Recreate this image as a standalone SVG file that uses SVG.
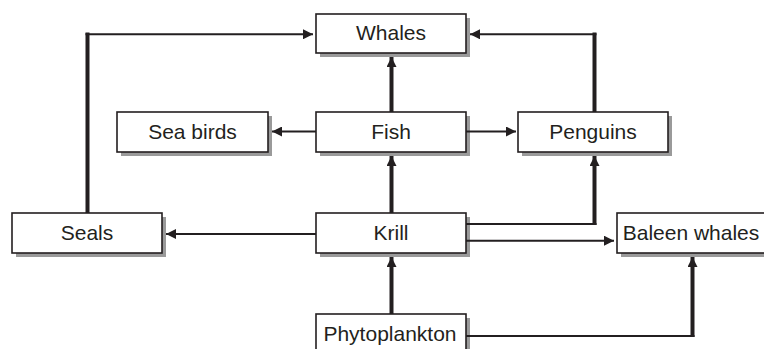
<svg xmlns="http://www.w3.org/2000/svg" width="764" height="349" viewBox="0 0 764 349">
<style>
.sh{fill:#9a9a9a}
.bx{fill:#fff;stroke:#231f20;stroke-width:1.6}
.t{font-family:"Liberation Sans",Arial,sans-serif;font-size:21px;fill:#231f20;text-anchor:middle}
.thin{fill:none;stroke:#231f20;stroke-width:2}
.thick{fill:none;stroke:#231f20;stroke-width:4}
</style>
<defs>
<marker id="ah" markerUnits="userSpaceOnUse" markerWidth="10" markerHeight="10" viewBox="0 0 9 9" refX="9" refY="4.5" orient="auto">
<path d="M0,0 L9,4.5 L0,9 z" fill="#231f20"/>
</marker>
</defs>
<rect width="764" height="349" fill="#fff"/>
<g id="whales"><rect class="sh" x="320" y="18" width="150" height="39"/><rect class="bx" x="316" y="14" width="150" height="39"/><text class="t" x="391" y="40">Whales</text></g>
<g id="seabirds"><rect class="sh" x="121" y="116" width="151" height="40"/><rect class="bx" x="117" y="112" width="151" height="40"/><text class="t" x="192.5" y="139">Sea birds</text></g>
<g id="fish"><rect class="sh" x="320" y="116" width="150" height="40"/><rect class="bx" x="316" y="112" width="150" height="40"/><text class="t" x="391" y="139">Fish</text></g>
<g id="penguins"><rect class="sh" x="522" y="116" width="150" height="40"/><rect class="bx" x="518" y="112" width="150" height="40"/><text class="t" x="593" y="139">Penguins</text></g>
<g id="seals"><rect class="sh" x="16" y="217" width="150" height="40"/><rect class="bx" x="12" y="213" width="150" height="40"/><text class="t" x="87" y="240">Seals</text></g>
<g id="krill"><rect class="sh" x="320" y="217" width="150" height="40"/><rect class="bx" x="316" y="213" width="150" height="40"/><text class="t" x="391" y="240">Krill</text></g>
<g id="baleen"><rect class="sh" x="621" y="217" width="150" height="40"/><rect class="bx" x="617" y="213" width="150" height="40"/><text class="t" x="691" y="240">Baleen whales</text></g>
<g id="phyto"><rect class="sh" x="320" y="318" width="150" height="40"/><rect class="bx" x="316" y="314" width="150" height="40"/><text class="t" x="390" y="341">Phytoplankton</text></g>
<g id="connectors">
<path class="thick" d="M87.5,213 V32.5"/>
<path class="thin" d="M85.5,34.3 H313" marker-end="url(#ah)"/>
<path class="thick" d="M594.5,112 V32.5"/>
<path class="thin" d="M596.5,34.3 H470" marker-end="url(#ah)"/>
<path class="thick" d="M391.5,112 V57" marker-end="url(#ah)"/>
<path class="thin" d="M316,131.5 H272" marker-end="url(#ah)"/>
<path class="thin" d="M466,131.5 H516" marker-end="url(#ah)"/>
<path class="thick" d="M391.5,213 V156" marker-end="url(#ah)"/>
<path class="thin" d="M466,224 H596.5"/>
<path class="thick" d="M594.5,225 V156" marker-end="url(#ah)"/>
<path class="thin" d="M466,240.7 H614" marker-end="url(#ah)"/>
<path class="thin" d="M316,234 H166" marker-end="url(#ah)"/>
<path class="thick" d="M391.5,314 V257" marker-end="url(#ah)"/>
<path class="thin" d="M466,336 H694.5"/>
<path class="thick" d="M692.5,337 V257" marker-end="url(#ah)"/>
</g>
</svg>
